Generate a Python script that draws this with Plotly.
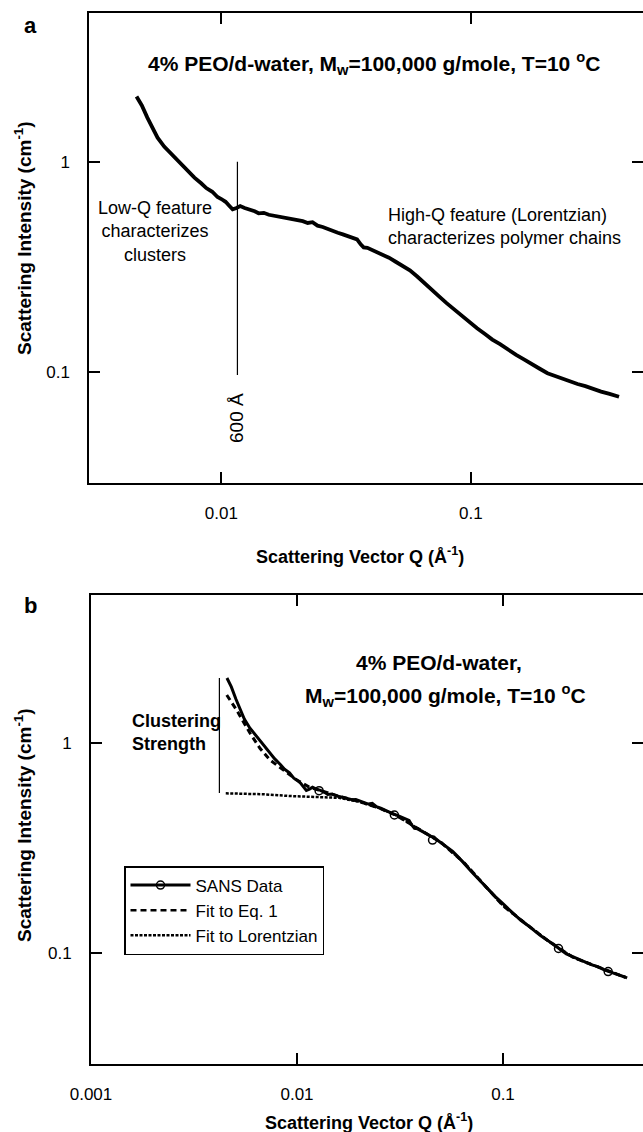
import plotly.graph_objects as go

W, H = 643, 1132
FONT = "Liberation Sans, Arial, sans-serif"

# ---- SANS data (4% PEO/d-water, Mw=100,000, T=10 C) ----
q_data = [0.00457, 0.00480, 0.00505, 0.00528, 0.00555, 0.00590, 0.00625, 0.00660, 0.00700, 0.00740,
          0.00780, 0.00830, 0.00870, 0.00920, 0.00965, 0.0100, 0.0104, 0.0108, 0.0111, 0.0115,
          0.0119, 0.0124, 0.0130, 0.0136, 0.0141, 0.0148, 0.0155, 0.0162, 0.0170, 0.0178,
          0.0185, 0.0193, 0.0202, 0.0212, 0.0222, 0.0232, 0.0243, 0.0255, 0.0268, 0.0280,
          0.0293, 0.0307, 0.0320, 0.0335, 0.0350, 0.0362, 0.0372, 0.0385, 0.0400, 0.0420,
          0.0445, 0.0470, 0.0500, 0.0535, 0.0570, 0.0610, 0.0650, 0.0700, 0.0750, 0.0800,
          0.0860, 0.0920, 0.0990, 0.106, 0.114, 0.122, 0.131, 0.141, 0.152, 0.164,
          0.176, 0.189, 0.203, 0.218, 0.234, 0.250, 0.268, 0.288, 0.310, 0.333,
          0.360, 0.393]
i_data = [2.04, 1.85, 1.62, 1.45, 1.30, 1.18, 1.10, 1.02, 0.95, 0.89,
          0.84, 0.79, 0.75, 0.72, 0.68, 0.665, 0.645, 0.615, 0.595, 0.603,
          0.616, 0.603, 0.595, 0.582, 0.569, 0.572, 0.560, 0.555, 0.548, 0.545,
          0.537, 0.538, 0.528, 0.522, 0.512, 0.516, 0.497, 0.490, 0.478, 0.472,
          0.460, 0.452, 0.445, 0.438, 0.428, 0.405, 0.392, 0.390, 0.382, 0.372,
          0.362, 0.350, 0.335, 0.320, 0.305, 0.285, 0.265, 0.245, 0.228, 0.213,
          0.198, 0.185, 0.173, 0.162, 0.152, 0.143, 0.136, 0.128, 0.121, 0.115,
          0.110, 0.104, 0.099, 0.096, 0.093, 0.090, 0.088, 0.086, 0.083, 0.081,
          0.079, 0.0766]

# open-circle markers on the SANS curve (panel b)
q_marks = [0.0128, 0.0297, 0.0455, 0.186, 0.324]
i_marks = [0.593, 0.454, 0.345, 0.105, 0.0815]

# Fit to Eq. 1
q_eq1 = [0.00456, 0.00509, 0.00592, 0.00661, 0.00739, 0.00858, 0.00997, 0.0115, 0.0135, 0.016,
         0.020, 0.025, 0.030, 0.040, 0.050, 0.065, 0.080, 0.100, 0.130, 0.170, 0.220, 0.280, 0.350, 0.400]
i_eq1 = [1.693, 1.436, 1.112, 0.944, 0.830, 0.744, 0.667, 0.615, 0.585, 0.558,
         0.527, 0.490, 0.455, 0.385, 0.336, 0.268, 0.213, 0.168, 0.137, 0.112, 0.095, 0.087, 0.080, 0.076]

# Fit to Lorentzian
q_lor = [0.00451, 0.00686, 0.00924, 0.0120, 0.0145, 0.016,
         0.020, 0.025, 0.030, 0.040, 0.050, 0.065, 0.080, 0.100, 0.130, 0.170, 0.220, 0.280, 0.350, 0.400]
i_lor = [0.576, 0.570, 0.559, 0.555, 0.550, 0.548,
         0.525, 0.490, 0.455, 0.385, 0.336, 0.268, 0.213, 0.168, 0.137, 0.112, 0.095, 0.087, 0.080, 0.076]

# guide lines
q_600 = [0.0116, 0.0116]
i_600 = [1.0, 0.097]
q_clu = [0.0042, 0.0042]
i_clu = [2.04, 0.578]

x_ticks = [0.001, 0.01, 0.1, 1]
x_ticktext = ["0.001", "0.01", "0.1", "1"]
y_ticks = [0.01, 0.1, 1, 10]
y_ticktext = ["0.01", "0.1", "1", "10"]


def px(x):
    return x / W


def py(y):
    return 1 - y / H


fig = go.Figure()

# panel a
fig.add_trace(go.Scatter(x=q_data, y=i_data, mode="lines", line=dict(color="black", width=3.8),
                         showlegend=False, xaxis="x", yaxis="y"))
fig.add_trace(go.Scatter(x=q_600, y=i_600, mode="lines", line=dict(color="black", width=1.2),
                         showlegend=False, xaxis="x", yaxis="y"))

# panel b
fig.add_trace(go.Scatter(x=q_clu, y=i_clu, mode="lines", line=dict(color="black", width=1.2),
                         showlegend=False, xaxis="x2", yaxis="y2"))
fig.add_trace(go.Scatter(x=q_lor, y=i_lor, mode="lines", name="Fit to Lorentzian",
                         line=dict(color="black", width=2.5, dash="3px,1.5px"),
                         showlegend=False, xaxis="x2", yaxis="y2"))
fig.add_trace(go.Scatter(x=q_eq1, y=i_eq1, mode="lines", name="Fit to Eq. 1",
                         line=dict(color="black", width=3, dash="6px,4px"),
                         showlegend=False, xaxis="x2", yaxis="y2"))
fig.add_trace(go.Scatter(x=q_data, y=i_data, mode="lines", line=dict(color="black", width=3),
                         showlegend=False, xaxis="x2", yaxis="y2"))
fig.add_trace(go.Scatter(x=q_marks, y=i_marks, mode="markers",
                         marker=dict(symbol="circle-open", size=8, color="black", line=dict(width=1.5)),
                         showlegend=False, xaxis="x2", yaxis="y2"))
# legend entries
fig.add_trace(go.Scatter(x=[None], y=[None], mode="lines+markers", name="SANS Data",
                         line=dict(color="black", width=3),
                         marker=dict(symbol="circle-open", size=8, color="black", line=dict(width=1.5)),
                         xaxis="x2", yaxis="y2"))
fig.add_trace(go.Scatter(x=[None], y=[None], mode="lines", name="Fit to Eq. 1",
                         line=dict(color="black", width=2.5, dash="6px,4px"), xaxis="x2", yaxis="y2"))
fig.add_trace(go.Scatter(x=[None], y=[None], mode="lines", name="Fit to Lorentzian",
                         line=dict(color="black", width=2.5, dash="3px,1.5px"), xaxis="x2", yaxis="y2"))

axis_common = dict(type="log", showgrid=False, zeroline=False, showline=True, linecolor="black",
                   linewidth=2, mirror="allticks", ticks="inside", ticklen=11, tickwidth=1.5,
                   tickcolor="black", automargin=False,
                   tickfont=dict(family=FONT, size=17, color="black"))

fig.update_layout(
    template="none",
    width=W, height=H, margin=dict(l=0, r=0, t=0, b=0, pad=0, autoexpand=False),
    paper_bgcolor="white", plot_bgcolor="white",
    font=dict(family=FONT, color="black"),
    xaxis=dict(axis_common, domain=[px(89.4), 1.0], range=[-2.529, -0.3095], anchor="y",
               tickvals=x_ticks, ticktext=x_ticktext, ticklabelstandoff=14),
    yaxis=dict(axis_common, domain=[py(482.7), py(12.7)], range=[-1.524, 0.7075], anchor="x",
               tickvals=y_ticks, ticktext=y_ticktext, ticklabelstandoff=14),
    xaxis2=dict(axis_common, domain=[px(91), 1.0], range=[-3, -0.3204], anchor="y2",
                tickvals=x_ticks, ticktext=x_ticktext, ticklabelstandoff=14),
    yaxis2=dict(axis_common, domain=[py(1064), py(595)], range=[-1.529, 0.705], anchor="x2",
                tickvals=y_ticks, ticktext=y_ticktext, ticklabelstandoff=14),
    legend=dict(x=px(124), y=py(866), xanchor="left", yanchor="top", bgcolor="white",
                bordercolor="black", borderwidth=1.5, font=dict(family=FONT, size=17, color="black"),
                itemwidth=60, tracegroupgap=0),
)

ann = []


def add_text(x, y, text, size, bold=False, angle=0, xanchor="center", align="center", yanchor="middle"):
    t = f"<b>{text}</b>" if bold else text
    ann.append(dict(x=px(x), y=py(y), xref="paper", yref="paper", text=t, showarrow=False,
                    xanchor=xanchor, yanchor=yanchor, align=align, textangle=angle,
                    font=dict(family=FONT, size=size, color="black")))


add_text(31, 25, "a", 22, bold=True)
add_text(31, 605, "b", 22, bold=True)
add_text(373.6, 64, "4% PEO/d-water, M<sub>w</sub>=100,000 g/mole, T=10 <sup>o</sup>C", 21, bold=True)
add_text(155, 231, "Low-Q feature<br>characterizes<br>clusters", 18)
add_text(385.5, 227, "High-Q feature (Lorentzian)<br>characterizes polymer chains", 18, xanchor="left", align="left")
add_text(237, 418, "600 Å", 19, angle=-90)
add_text(23, 238, "Scattering Intensity (cm<sup>-1</sup>)", 19, bold=True, angle=-90)
add_text(360, 556, "Scattering Vector Q (Å<sup>-1</sup>)", 18, bold=True)

add_text(438.5, 662, "4% PEO/d-water,", 21, bold=True)
add_text(445, 695, "M<sub>w</sub>=100,000 g/mole, T=10 <sup>o</sup>C", 21, bold=True)
add_text(130, 732, "Clustering<br>Strength", 18, bold=True, xanchor="left", align="left")
add_text(23, 825, "Scattering Intensity (cm<sup>-1</sup>)", 19, bold=True, angle=-90)
add_text(369, 1121, "Scattering Vector Q (Å<sup>-1</sup>)", 18, bold=True)

fig.update_layout(annotations=ann)
fig.write_html("out.html", config={"displayModeBar": False},
               post_script="document.body.style.margin='0';document.body.style.padding='0';")
